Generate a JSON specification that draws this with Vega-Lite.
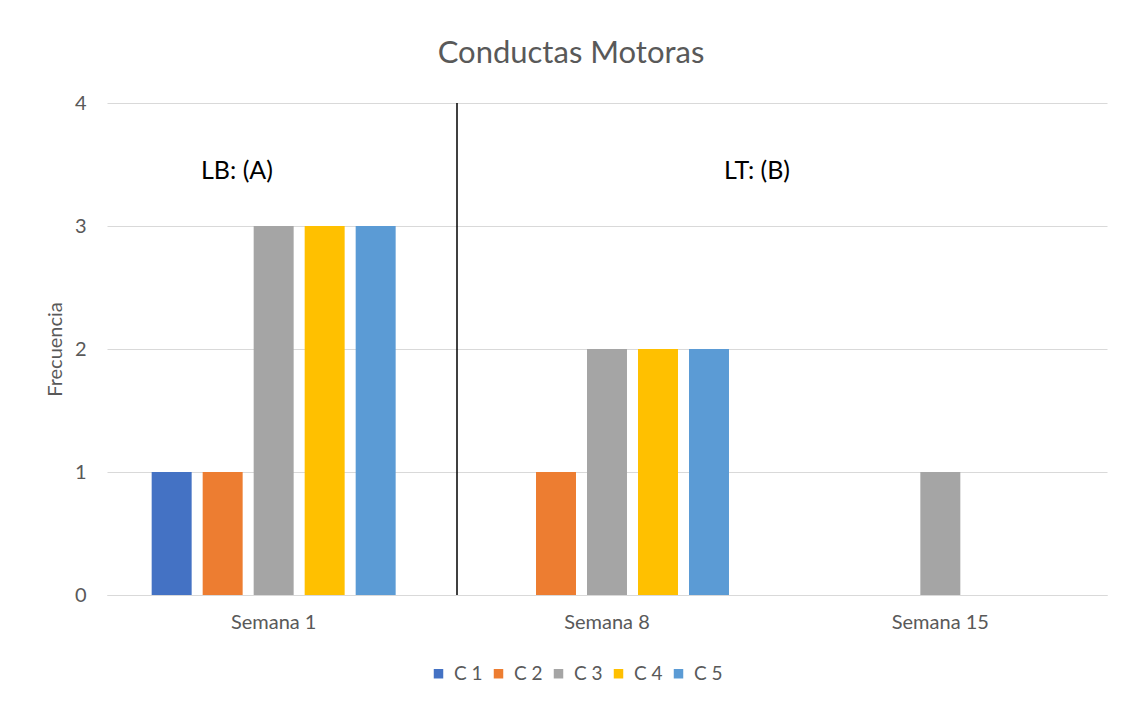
{
  "$schema": "https://vega.github.io/schema/vega-lite/v6.json",
  "width": 1000,
  "height": 492,
  "autosize": {"type": "none"},
  "padding": {"left": 107, "top": 103, "right": 19, "bottom": 108},
  "background": "white",
  "title": {
    "text": "Conductas Motoras",
    "font": "Lato",
    "fontSize": 31,
    "fontWeight": "normal",
    "color": "#595959",
    "dx": -36,
    "offset": 23
  },
  "datasets": {
    "conductas": [
      {"semana": "Semana 1", "serie": "C 1", "frecuencia": 1},
      {"semana": "Semana 1", "serie": "C 2", "frecuencia": 1},
      {"semana": "Semana 1", "serie": "C 3", "frecuencia": 3},
      {"semana": "Semana 1", "serie": "C 4", "frecuencia": 3},
      {"semana": "Semana 1", "serie": "C 5", "frecuencia": 3},
      {"semana": "Semana 8", "serie": "C 1", "frecuencia": 0},
      {"semana": "Semana 8", "serie": "C 2", "frecuencia": 1},
      {"semana": "Semana 8", "serie": "C 3", "frecuencia": 2},
      {"semana": "Semana 8", "serie": "C 4", "frecuencia": 2},
      {"semana": "Semana 8", "serie": "C 5", "frecuencia": 2},
      {"semana": "Semana 15", "serie": "C 1", "frecuencia": 0},
      {"semana": "Semana 15", "serie": "C 2", "frecuencia": 0},
      {"semana": "Semana 15", "serie": "C 3", "frecuencia": 1},
      {"semana": "Semana 15", "serie": "C 4", "frecuencia": 0},
      {"semana": "Semana 15", "serie": "C 5", "frecuencia": 0}
    ],
    "divisiones": [
      {"semana": "Semana 8"}
    ],
    "fases": [
      {"semana": "Semana 1", "altura": 3.45, "texto": "LB: (A)"},
      {"semana": "Semana 8", "altura": 3.45, "texto": "LT: (B)"}
    ]
  },
  "layer": [
    {
      "data": {"name": "conductas"},
      "mark": {"type": "bar"},
      "encoding": {
        "x": {
          "field": "semana",
          "type": "nominal",
          "scale": {"domain": ["Semana 1", "Semana 8", "Semana 15"], "paddingInner": 0, "paddingOuter": 0},
          "axis": {
            "title": null,
            "labelAngle": 0,
            "domain": true,
            "domainColor": "#D9D9D9",
            "domainWidth": 1,
            "ticks": false,
            "labelPadding": 17,
            "labelFont": "Lato",
            "labelFontSize": 20,
            "labelColor": "#595959"
          }
        },
        "xOffset": {
          "field": "serie",
          "type": "nominal",
          "scale": {"paddingInner": 0.216, "paddingOuter": 0.876}
        },
        "y": {
          "field": "frecuencia",
          "type": "quantitative",
          "scale": {"domain": [0, 4]},
          "axis": {
            "values": [0, 1, 2, 3, 4],
            "format": "d",
            "title": "Frecuencia",
            "titleFont": "Lato",
            "titleFontSize": 20,
            "titleFontWeight": "normal",
            "titleColor": "#595959",
            "titlePadding": 9,
            "grid": true,
            "gridColor": "#D9D9D9",
            "gridWidth": 1,
            "domain": false,
            "ticks": false,
            "labelPadding": 21,
            "labelFont": "Lato",
            "labelFontSize": 20,
            "labelColor": "#595959"
          }
        },
        "color": {
          "field": "serie",
          "type": "nominal",
          "scale": {
            "domain": ["C 1", "C 2", "C 3", "C 4", "C 5"],
            "range": ["#4472C4", "#ED7D31", "#A5A5A5", "#FFC000", "#5B9BD5"]
          },
          "legend": {
            "title": null,
            "orient": "none",
            "direction": "horizontal",
            "legendX": 322,
            "legendY": 561,
            "symbolType": "square",
            "symbolSize": 90,
            "symbolStrokeWidth": 0,
            "labelFont": "Lato",
            "labelFontSize": 19,
            "labelColor": "#595959",
            "labelOffset": 6,
            "columnPadding": 6
          }
        }
      }
    },
    {
      "data": {"name": "divisiones"},
      "mark": {"type": "rule", "color": "#000000", "strokeWidth": 1.5},
      "encoding": {
        "x": {
          "field": "semana",
          "type": "nominal",
          "bandPosition": 0.05,
          "scale": {"domain": ["Semana 1", "Semana 8", "Semana 15"], "paddingInner": 0, "paddingOuter": 0}
        },
        "y": {"datum": 0, "type": "quantitative"},
        "y2": {"datum": 4}
      }
    },
    {
      "data": {"name": "fases"},
      "transform": [{"filter": "datum.semana === 'Semana 1'"}],
      "mark": {"type": "text", "font": "Lato", "fontSize": 25, "color": "#000000", "baseline": "middle", "align": "center"},
      "encoding": {
        "x": {
          "field": "semana",
          "type": "nominal",
          "bandPosition": 0.39,
          "scale": {"domain": ["Semana 1", "Semana 8", "Semana 15"], "paddingInner": 0, "paddingOuter": 0}
        },
        "y": {"field": "altura", "type": "quantitative"},
        "text": {"field": "texto"}
      }
    },
    {
      "data": {"name": "fases"},
      "transform": [{"filter": "datum.semana === 'Semana 8'"}],
      "mark": {"type": "text", "font": "Lato", "fontSize": 25, "color": "#000000", "baseline": "middle", "align": "center"},
      "encoding": {
        "x": {
          "field": "semana",
          "type": "nominal",
          "bandPosition": 0.95,
          "scale": {"domain": ["Semana 1", "Semana 8", "Semana 15"], "paddingInner": 0, "paddingOuter": 0}
        },
        "y": {"field": "altura", "type": "quantitative"},
        "text": {"field": "texto"}
      }
    }
  ],
  "config": {
    "view": {"stroke": null}
  }
}
